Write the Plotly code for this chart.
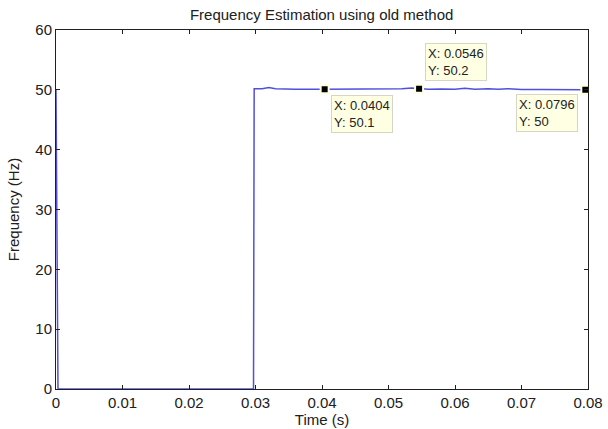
import plotly.graph_objects as go

# Data
time_s = [0.0, 0.0003, 0.0297, 0.0298, 0.031, 0.032, 0.033, 0.036, 0.0404, 0.045,
          0.050, 0.052, 0.0535, 0.0546, 0.056, 0.058, 0.060, 0.0615, 0.063, 0.065,
          0.0665, 0.068, 0.070, 0.073, 0.076, 0.0796]
freq_hz = [50.1, 0.0, 0.0, 50.2, 50.2, 50.4, 50.2, 50.1, 50.1, 50.1,
           50.1, 50.2, 50.3, 50.2, 50.1, 50.15, 50.1, 50.25, 50.1, 50.2,
           50.1, 50.2, 50.05, 50.05, 50.0, 50.0]

tip_x = [0.0404, 0.0546, 0.0796]
tip_y = [50.1, 50.2, 50.0]
tip_labels = ["X: 0.0404<br>Y: 50.1", "X: 0.0546<br>Y: 50.2", "X: 0.0796<br>Y: 50"]

x_ticks = [0, 0.01, 0.02, 0.03, 0.04, 0.05, 0.06, 0.07, 0.08]
x_ticklabels = ["0", "0.01", "0.02", "0.03", "0.04", "0.05", "0.06", "0.07", "0.08"]
y_ticks = [0, 10, 20, 30, 40, 50, 60]

FONT = "Liberation Sans, Arial"
FS = 15

fig = go.Figure()
fig.add_trace(go.Scatter(x=time_s, y=freq_hz, mode="lines",
                         line=dict(color="#5050dc", width=1.5),
                         showlegend=False, hoverinfo="skip"))
fig.add_trace(go.Scatter(x=tip_x, y=tip_y, mode="markers",
                         marker=dict(symbol="square", size=8, color="black",
                                     line=dict(color="#ffffe0", width=2)),
                         showlegend=False, cliponaxis=False, hoverinfo="skip"))

# placement of data tips: (xanchor, yanchor, xshift, yshift)
placements = [("left", "top", 6, -6), ("left", "bottom", 6, 8), ("right", "top", -7, -4)]
for xv, yv, lab, (xa, ya, xs, ys) in zip(tip_x, tip_y, tip_labels, placements):
    fig.add_annotation(x=xv, y=yv, xref="x", yref="y", text=lab, showarrow=False,
                       xanchor=xa, yanchor=ya, xshift=xs, yshift=ys, align="left",
                       font=dict(family=FONT, size=13, color="#222222"),
                       bgcolor="#ffffe3", bordercolor="#d6d6c4", borderwidth=1, borderpad=2)

axis_common = dict(showline=True, linecolor="#202020", linewidth=1, mirror="ticks",
                   ticks="inside", ticklen=4, tickcolor="#202020", showgrid=False,
                   zeroline=False, automargin=False,
                   tickfont=dict(family=FONT, size=FS, color="#202020"))

fig.update_layout(
    width=608, height=429,
    margin=dict(l=56, r=20, t=30, b=40),
    paper_bgcolor="white", plot_bgcolor="white",
    title=dict(text="Frequency Estimation using old method", x=0.529, xanchor="center",
               y=0.965, yanchor="middle",
               font=dict(family=FONT, size=FS, color="#202020")),
    xaxis=dict(range=[0, 0.08], tickvals=x_ticks, ticktext=x_ticklabels,
               title=dict(text="Time (s)", standoff=0,
                          font=dict(family=FONT, size=FS, color="#202020")),
               **axis_common),
    yaxis=dict(range=[0, 60], tickvals=y_ticks,
               title=dict(text="Frequency (Hz)", standoff=12,
                          font=dict(family=FONT, size=FS, color="#202020")),
               **axis_common),
)

fig.write_html("out.html", config={"displayModeBar": False},
               post_script="document.body.style.margin='0';document.body.style.overflow='hidden';")
